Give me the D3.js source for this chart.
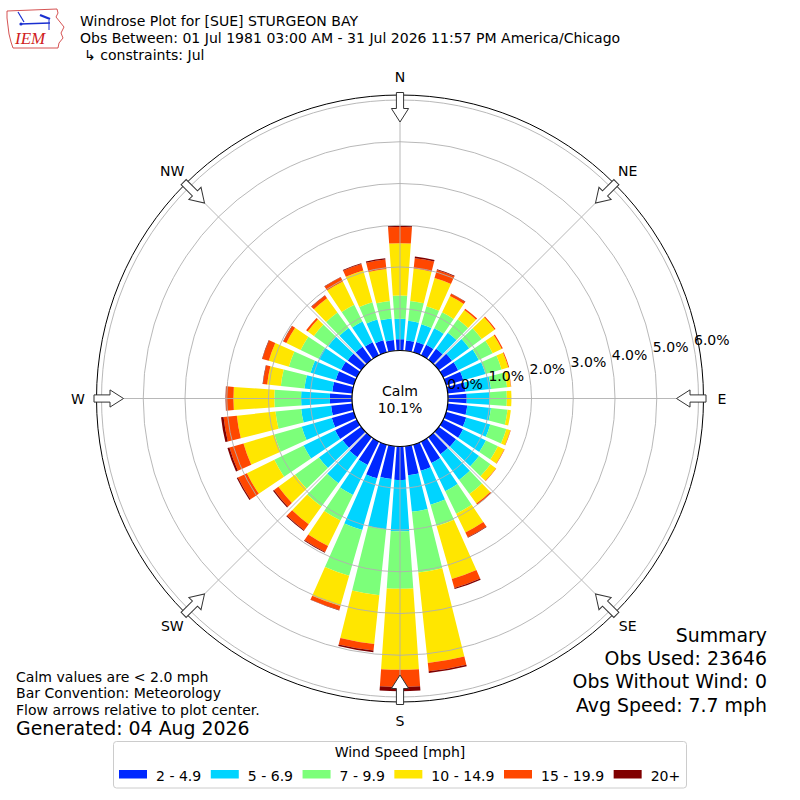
<!DOCTYPE html>
<html><head><meta charset="utf-8">
<script src="https://cdn.jsdelivr.net/npm/d3@7"></script>
<style>
body{margin:0;background:#fff}
svg{display:block}
text{font-family:"DejaVu Sans",sans-serif;fill:#000}
</style>
</head><body>
<svg id="chart" width="800" height="800"></svg>
<script>
// ---------- data ----------
const directions = d3.range(0, 360, 10);
const speedBins = ["2 - 4.9", "5 - 6.9", "7 - 9.9", "10 - 14.9", "15 - 19.9", "20+"];
const binColors = ["#0028ff", "#00d4ff", "#7cff7a", "#ffe600", "#ff4700", "#800000"];
const s2_49   = [0.27,0.25,0.26,0.28,0.32,0.39,0.40,0.43,0.43,0.45,0.47,0.50,0.53,0.51,0.50,0.57,0.65,0.70,0.80,0.79,0.84,0.62,0.59,0.55,0.58,0.55,0.51,0.53,0.48,0.45,0.42,0.40,0.38,0.35,0.30,0.26];
const s5_69   = [0.49,0.47,0.44,0.44,0.48,0.51,0.55,0.55,0.61,0.55,0.57,0.60,0.61,0.68,0.76,0.75,0.85,0.88,1.23,1.21,1.29,0.80,0.77,0.70,0.84,0.75,0.72,0.69,0.67,0.63,0.60,0.58,0.56,0.55,0.52,0.52];
const s7_99   = [0.56,0.48,0.45,0.43,0.40,0.37,0.37,0.40,0.39,0.41,0.40,0.40,0.32,0.34,0.42,0.60,0.53,1.46,1.38,1.59,1.14,0.68,0.69,0.71,0.78,0.68,0.62,0.64,0.57,0.54,0.48,0.42,0.46,0.45,0.43,0.42];
const s10_149 = [1.25,0.78,0.70,0.43,0.27,0.38,0.24,0.17,0.09,0.11,0.08,0.10,0.17,0.16,0.28,0.50,1.32,2.18,1.94,1.17,0.75,0.68,0.52,0.49,0.73,0.77,0.93,0.98,0.33,0.50,0.38,0.18,0.42,0.62,0.79,0.77];
const s15_199 = [0.39,0.25,0.20,0.06,0.04,0.03,0.03,0.02,0.01,0.00,0.00,0.01,0.01,0.01,0.04,0.13,0.22,0.20,0.41,0.16,0.10,0.16,0.18,0.13,0.24,0.35,0.32,0.18,0.10,0.16,0.08,0.05,0.08,0.11,0.16,0.23];
const s20p    = [0.03,0.04,0.02,0.01,0.00,0.00,0.00,0.00,0.00,0.00,0.00,0.00,0.00,0.00,0.00,0.01,0.03,0.04,0.10,0.04,0.01,0.02,0.02,0.03,0.03,0.05,0.06,0.01,0.01,0.01,0.01,0.00,0.01,0.01,0.02,0.03];
const series = [s2_49, s5_69, s7_99, s10_149, s15_199, s20p];
const ringTicks = [0, 1, 2, 3, 4, 5, 6];
const compassLabels = ["N", "NE", "E", "SE", "S", "SW", "W", "NW"];
const compassAngles = [0, 45, 90, 135, 180, 225, 270, 315];
const calmPct = 10.1;
const titleLines = ["Windrose Plot for [SUE] STURGEON BAY",
  "Obs Between: 01 Jul 1981 03:00 AM - 31 Jul 2026 11:57 PM America/Chicago",
  "\u21b3 constraints: Jul"];
const noteLines = ["Calm values are < 2.0 mph", "Bar Convention: Meteorology", "Flow arrows relative to plot center."];
const generatedText = "Generated: 04 Aug 2026";
const summaryLines = ["Summary", "Obs Used: 23646", "Obs Without Wind: 0", "Avg Speed: 7.7 mph"];
const legendTitle = "Wind Speed [mph]";

// ---------- layout ----------
const svg = d3.select("#chart");
const cx = 400, cy = 398.5;
const rScale = d3.scaleLinear().domain([0, 6]).range([48, 298.5]);
const frameR = 303.5;
const FS = 14.05;
const BIG = 18.9;
const rad = d => d * Math.PI / 180;
const barHalf = 4; // degrees (opening 0.8 of 10 deg sector)

const plot = svg.append("g").attr("transform", `translate(${cx},${cy})`);

// bars
const segs = [];
directions.forEach((dir, i) => {
  let cum = 0;
  series.forEach((s, k) => {
    const v = s[i];
    if (v > 0) segs.push({dir, k, r0: cum, r1: cum + v});
    cum += v;
  });
});
const arc = d3.arc()
  .innerRadius(d => rScale(d.r0))
  .outerRadius(d => rScale(d.r1))
  .startAngle(d => rad(d.dir - barHalf))
  .endAngle(d => rad(d.dir + barHalf));
plot.append("g").selectAll("path").data(segs).join("path")
  .attr("d", arc)
  .attr("fill", d => binColors[d.k]);

// grid rings & spokes (drawn over the bars)
const grid = plot.append("g").attr("fill", "none").attr("stroke", "#b0b0b0").attr("stroke-width", 0.9);
grid.selectAll("circle").data(ringTicks).join("circle").attr("r", d => rScale(d));
grid.selectAll("line").data(compassAngles).join("line")
  .attr("x1", d => rScale(0) * Math.sin(rad(d))).attr("y1", d => -rScale(0) * Math.cos(rad(d)))
  .attr("x2", d => rScale(6) * Math.sin(rad(d))).attr("y2", d => -rScale(6) * Math.cos(rad(d)));

// frame
plot.append("circle").attr("r", frameR).attr("fill", "none").attr("stroke", "#000").attr("stroke-width", 1);

// calm circle
plot.append("circle").attr("r", rScale(0)).attr("fill", "#fff").attr("stroke", "#000").attr("stroke-width", 1.2);
plot.append("text").attr("text-anchor", "middle").attr("y", -3).attr("font-size", FS).text("Calm");
plot.append("text").attr("text-anchor", "middle").attr("y", 14).attr("font-size", FS).text(d3.format(".1f")(calmPct) + "%");

// ring labels
const labAng = rad(10);
plot.append("g").selectAll("text").data(ringTicks).join("text")
  .attr("x", d => rScale(d) * Math.cos(labAng))
  .attr("y", d => -rScale(d) * Math.sin(labAng) - 1.5)
  .attr("font-size", FS)
  .text(d => d3.format(".1f")(d) + "%");

// flow arrows
const arrowPath = "M-3.6,-306 L-3.6,-290 L-8.6,-290 L0,-276.5 L8.6,-290 L3.6,-290 L3.6,-306 Z";
plot.append("g").selectAll("path").data(compassAngles).join("path")
  .attr("d", arrowPath)
  .attr("transform", d => `rotate(${d})`)
  .attr("fill", "#fff").attr("stroke", "#333").attr("stroke-width", 1);

// compass labels
plot.append("g").selectAll("text").data(compassLabels).join("text")
  .attr("x", (d, i) => 322 * Math.sin(rad(compassAngles[i])))
  .attr("y", (d, i) => -322 * Math.cos(rad(compassAngles[i])))
  .attr("text-anchor", "middle").attr("dominant-baseline", "central")
  .attr("font-size", FS).text(d => d);

// ---------- titles ----------
svg.append("g").selectAll("text").data(titleLines).join("text")
  .attr("x", (d, i) => i === 2 ? 84 : 80)
  .attr("y", (d, i) => 25.5 + i * 17.2)
  .attr("font-size", FS).text(d => d);

// logo
const logo = svg.append("g");
logo.append("path")
  .attr("d", "M7,11 L57,9 L58,13 L56,17 L60,22 L64,27 L61,33 L63,38 L59,43 L58,48 L13,48 L11,42 L9,34 L8,26 L7,18 Z")
  .attr("fill", "none").attr("stroke", "#d04040").attr("stroke-width", 0.9);
logo.append("line").attr("x1", 20).attr("y1", 24).attr("x2", 50).attr("y2", 23).attr("stroke", "#1a2fd0").attr("stroke-width", 1.6);
logo.append("line").attr("x1", 18).attr("y1", 12).attr("x2", 24).attr("y2", 22).attr("stroke", "#1a2fd0").attr("stroke-width", 1.2);
logo.append("line").attr("x1", 40).attr("y1", 15).attr("x2", 50).attr("y2", 19).attr("stroke", "#1a2fd0").attr("stroke-width", 2.4);
logo.append("line").attr("x1", 49).attr("y1", 20).attr("x2", 49).attr("y2", 30).attr("stroke", "#1a2fd0").attr("stroke-width", 1);
logo.append("circle").attr("cx", 21).attr("cy", 24).attr("r", 1.6).attr("fill", "#1a2fd0");
logo.append("text").attr("x", 15).attr("y", 44).attr("font-size", 17)
  .style("font-family", "'Liberation Serif',serif").style("font-style", "italic").style("fill", "#d02020").text("IEM");

// ---------- notes ----------
svg.append("g").selectAll("text").data(noteLines).join("text")
  .attr("x", 16).attr("y", (d, i) => 681.5 + i * 16.8)
  .attr("font-size", FS).text(d => d);
svg.append("text").attr("x", 16).attr("y", 735).attr("font-size", BIG).text(generatedText);

svg.append("g").selectAll("text").data(summaryLines).join("text")
  .attr("x", 767).attr("y", (d, i) => 641.5 + i * 23.4)
  .attr("text-anchor", "end").attr("font-size", BIG).text(d => d);

// ---------- legend ----------
const leg = svg.append("g");
leg.append("rect").attr("x", 113.5).attr("y", 741.5).attr("width", 573).attr("height", 46.5)
  .attr("rx", 3).attr("fill", "#fff").attr("stroke", "#cccccc").attr("stroke-width", 1);
leg.append("text").attr("x", 400).attr("y", 757).attr("text-anchor", "middle").attr("font-size", FS).text(legendTitle);
let lx = 119;
speedBins.forEach((lab, k) => {
  leg.append("rect").attr("x", lx).attr("y", 770).attr("width", 28).attr("height", 8.5).attr("fill", binColors[k]);
  const t = leg.append("text").attr("x", lx + 37).attr("y", 781).attr("font-size", FS).text(lab);
  lx = lx + 37 + t.node().getComputedTextLength() + 9.5;
});
</script>
</body></html>
